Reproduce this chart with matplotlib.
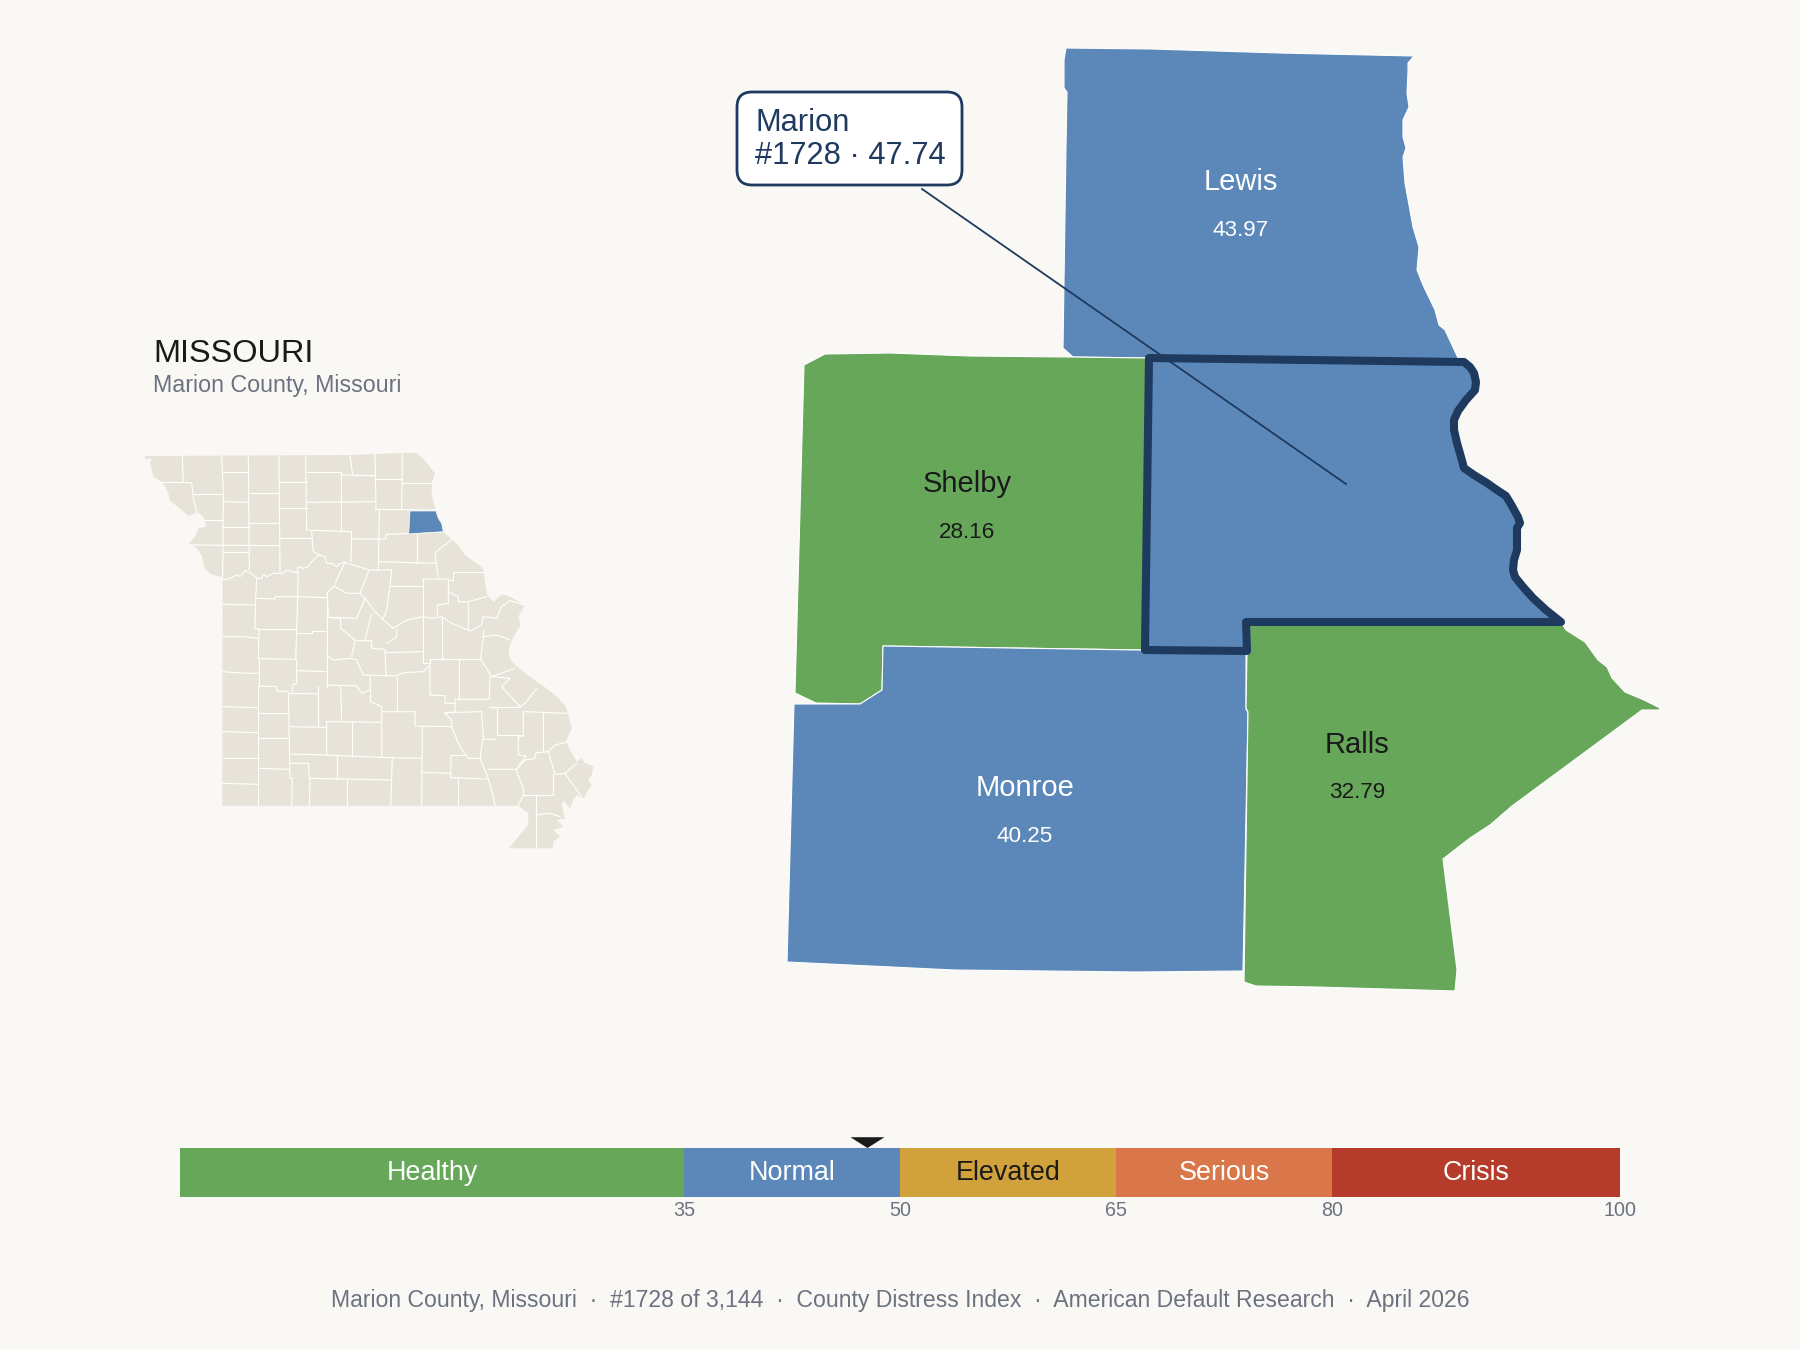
import matplotlib
matplotlib.use('Agg')
import matplotlib.pyplot as plt
from matplotlib.patches import FancyBboxPatch, Polygon, Rectangle

plt.rcParams['font.family'] = ['Liberation Sans', 'DejaVu Sans']

BG = '#FAF8F4'
NAVY = '#1F3A5F'
DARK = '#1A1A1A'
GREY = '#6B7280'
LAND = '#E8E3D8'

# severity scale
band_names = ['Healthy', 'Normal', 'Elevated', 'Serious', 'Crisis']
band_edges = [0, 35, 50, 65, 80, 100]
band_colors = ['#66A75A', '#5B88B8', '#D1A23B', '#D9774A', '#B53C2A']
band_text = ['white', 'white', DARK, 'white', 'white']
tick_values = [35, 50, 65, 80, 100]
marion_score = 47.74

# neighbouring counties
county_names = ['Lewis', 'Shelby', 'Monroe', 'Ralls']
county_scores = [43.97, 28.16, 40.25, 32.79]
county_text = ['white', DARK, 'white', DARK]
county_name_xy = [(1241, 182), (967, 484), (1025, 788), (1357, 745)]

lewis_shape = [(1066, 48), (1152, 49), (1280, 53), (1414, 56), (1408, 63), (1408, 72), (1407, 93), (1409, 107),
               (1403, 120), (1403, 137), (1406, 148), (1403, 157), (1405, 183), (1413, 227), (1419, 247),
               (1417, 270), (1423, 285), (1435, 310), (1439, 325), (1445, 330), (1459, 360), (1149, 358),
               (1073, 357), (1063, 348), (1066, 147), (1067, 92), (1064, 88), (1064, 60)]
shelby_shape = [(825, 354), (890, 353), (970, 356), (1070, 357), (1149, 358), (1145, 650), (883, 646), (882, 690),
                (860, 704), (816, 703), (795, 693), (804, 365)]
monroe_shape = [(794, 704), (860, 704), (882, 690), (883, 646), (1137, 650), (1246, 652), (1246, 709), (1248, 712),
                (1243, 971), (1137, 972), (954, 970), (787, 962)]
ralls_shape = [(1247, 622), (1561, 622), (1566, 630), (1585, 642), (1598, 660), (1607, 667), (1612, 678), (1625, 692),
               (1644, 700), (1660, 708), (1659, 710), (1642, 710), (1512, 806), (1490, 825), (1470, 838), (1443, 859),
               (1457, 970), (1455, 991), (1316, 987), (1256, 986), (1244, 982), (1248, 712), (1246, 708), (1247, 652)]
marion_shape = [(1149, 358), (1464, 362), (1470, 367), (1474, 373), (1476, 382), (1475, 390), (1466, 400), (1458, 411),
                (1454, 420), (1454, 430), (1457, 443), (1461, 457), (1464, 468), (1474, 475), (1487, 483), (1494, 488),
                (1506, 496), (1512, 506), (1518, 517), (1520, 523), (1517, 528), (1517, 540), (1517, 550), (1514, 560),
                (1513, 570), (1515, 577), (1524, 588), (1533, 598), (1546, 610), (1561, 622), (1246, 622), (1247, 651),
                (1145, 650)]
county_shapes = [lewis_shape, shelby_shape, monroe_shape, ralls_shape]

# state locator, in units of the 3x crop
state_outline = [(45, 78), (660, 75), (735, 72), (860, 68), (885, 92), (915, 130), (905, 160), (905, 195), (918, 243),
                 (925, 262), (940, 305), (965, 328), (985, 345), (1005, 375), (1060, 415), (1065, 460), (1072, 495),
                 (1090, 515), (1115, 493), (1140, 500), (1185, 525), (1165, 560), (1172, 585), (1150, 620), (1135, 660),
                 (1140, 685), (1158, 708), (1220, 755), (1240, 768), (1280, 800), (1305, 825), (1315, 850), (1325, 895),
                 (1318, 910), (1308, 935), (1320, 960), (1340, 995), (1355, 985), (1365, 1000), (1390, 1008),
                 (1385, 1035), (1375, 1050), (1385, 1065), (1375, 1080), (1360, 1108), (1340, 1095), (1330, 1110),
                 (1320, 1135), (1300, 1110), (1295, 1125), (1305, 1165), (1280, 1170), (1300, 1190), (1270, 1200),
                 (1290, 1220), (1270, 1235), (1268, 1255), (1137, 1255), (1165, 1220), (1195, 1185), (1195, 1150),
                 (1165, 1127), (277, 1127), (278, 442), (240, 432), (222, 410), (215, 375), (200, 355), (178, 340),
                 (195, 320), (205, 295), (228, 290), (225, 270), (215, 255), (200, 245), (195, 250), (175, 258),
                 (155, 240), (120, 212), (115, 190), (100, 160), (70, 140), (60, 100), (65, 85), (45, 88)]
marion_locator = [(840, 243), (918, 243), (925, 265), (935, 280), (940, 305), (862, 310), (836, 312)]
county_lines = [
    [(157, 78), (160, 157)], [(275, 80), (280, 190), (278, 445)], [(355, 80), (358, 420)], [(447, 78), (450, 430)],
    [(527, 78), (530, 300)], [(660, 75), (668, 135)], [(735, 72), (738, 238)], [(817, 72), (815, 238)],
    [(85, 157), (185, 158), (190, 205), (200, 245)], [(190, 193), (275, 193)], [(275, 125), (355, 125)],
    [(280, 215), (358, 217)], [(358, 190), (447, 190)], [(358, 280), (447, 280)], [(280, 290), (358, 290)],
    [(225, 270), (278, 270)], [(178, 345), (447, 347)], [(280, 367), (358, 367)], [(447, 157), (530, 157)],
    [(450, 235), (530, 235)], [(450, 325), (545, 325)], [(530, 127), (632, 127), (632, 302)], [(668, 135), (735, 135)],
    [(632, 135), (735, 137)], [(530, 217), (735, 215)], [(735, 238), (918, 240)], [(735, 148), (815, 148)],
    [(815, 160), (905, 160)], [(748, 240), (745, 420)], [(530, 300), (665, 305)], [(665, 305), (663, 395)],
    [(665, 327), (768, 327), (768, 313), (862, 310), (940, 305)], [(862, 310), (862, 398)], [(745, 395), (920, 400)],
    [(967, 328), (915, 368), (925, 447)], [(645, 397), (717, 420), (785, 420)], [(645, 397), (615, 460)],
    [(717, 420), (690, 490)], [(780, 467), (878, 467)], [(785, 420), (780, 467), (770, 540), (758, 570)],
    [(878, 447), (955, 447), (955, 520), (922, 525), (922, 555)], [(878, 447), (878, 700)],
    [(970, 425), (1060, 425)], [(970, 425), (970, 450), (955, 450)],
    [(955, 485), (985, 500), (985, 515), (1015, 515), (1015, 600)], [(1015, 515), (1070, 500)],
    [(278, 450), (300, 445), (320, 435), (330, 440), (345, 422), (365, 430), (380, 445), (395, 445), (400, 433),
     (410, 440), (430, 430), (460, 430), (470, 420), (500, 428), (505, 410), (520, 415), (535, 410), (545, 395),
     (555, 385), (570, 375), (585, 380), (590, 400), (605, 400), (620, 410), (630, 400), (645, 397)],
    [(545, 305), (550, 365), (570, 375)], [(505, 425), (503, 500)], [(380, 445), (377, 505), (375, 595), (387, 597)],
    [(278, 523), (377, 525)], [(377, 505), (435, 507), (435, 500), (503, 500), (590, 503)],
    [(503, 500), (500, 600), (497, 685)], [(387, 597), (500, 597)], [(278, 620), (340, 620), (387, 625)],
    [(387, 597), (385, 685)], [(388, 686), (500, 688)], [(388, 686), (388, 765)],
    [(500, 688), (500, 760), (487, 765), (487, 785)], [(278, 725), (350, 730), (388, 730)], [(278, 830), (385, 833)],
    [(385, 765), (385, 1127)], [(388, 768), (440, 770), (440, 783), (475, 785), (480, 1045)], [(385, 850), (478, 850)],
    [(278, 905), (385, 908)], [(385, 925), (478, 925)], [(278, 985), (388, 985)], [(278, 1060), (385, 1063)],
    [(388, 1015), (478, 1018)], [(500, 610), (545, 610), (545, 603), (590, 603)], [(590, 490), (615, 465)],
    [(590, 490), (590, 770)], [(500, 722), (590, 725)], [(590, 765), (680, 768), (695, 790), (720, 780)],
    [(565, 768), (565, 890)], [(478, 790), (565, 792)], [(632, 768), (635, 873)], [(590, 875), (753, 877)],
    [(720, 740), (722, 815), (755, 830), (755, 982)], [(755, 845), (855, 845), (855, 888), (965, 890)],
    [(800, 740), (800, 845)],
    [(590, 675), (610, 690), (660, 685), (680, 690), (700, 735), (800, 738), (820, 728), (880, 725), (900, 705),
     (900, 795)],
    [(590, 562), (632, 565), (632, 595), (675, 630), (665, 680)], [(592, 490), (595, 562), (680, 565), (705, 505)],
    [(615, 470), (650, 490), (690, 490), (705, 505), (735, 545), (760, 570), (790, 595), (830, 570), (878, 560),
     (905, 565), (935, 560), (965, 580), (1020, 603), (1055, 585), (1060, 560), (1100, 565), (1115, 530), (1140, 512),
     (1185, 525)],
    [(725, 550), (705, 630)], [(678, 632), (725, 632), (725, 655), (765, 658), (768, 735)],
    [(770, 640), (800, 620), (800, 600)], [(765, 668), (878, 665)], [(878, 700), (900, 700), (900, 688), (1052, 688)],
    [(935, 560), (935, 688)], [(1062, 600), (1052, 688), (1085, 740), (1155, 715)],
    [(1062, 620), (1100, 615), (1140, 630)], [(988, 688), (988, 808)],
    [(900, 795), (945, 797), (945, 820), (975, 820), (975, 808), (1078, 808), (1080, 740)],
    [(1115, 770), (1140, 745), (1085, 740)], [(1115, 770), (1170, 830), (1185, 820), (1220, 775)],
    [(1078, 832), (1170, 832)], [(1100, 835), (1100, 915), (1180, 915)],
    [(1180, 845), (1180, 918), (1165, 920), (1165, 975), (1188, 978), (1158, 1020)], [(1180, 845), (1315, 850)],
    [(1238, 845), (1238, 965)], [(975, 820), (975, 845), (945, 850), (965, 870), (965, 890)],
    [(945, 848), (1055, 845), (1060, 928), (1098, 928)], [(1058, 930), (1050, 985)], [(877, 890), (875, 1127)],
    [(965, 890), (985, 940), (1003, 970), (1015, 985), (1050, 985), (1075, 1045)], [(963, 975), (1003, 975)],
    [(963, 975), (962, 1043), (1075, 1047), (1090, 1100), (1095, 1127)], [(875, 1027), (962, 1030)],
    [(983, 1045), (983, 1127)], [(480, 890), (587, 892)], [(590, 875), (590, 975), (480, 972)], [(667, 875), (667, 982)],
    [(590, 975), (755, 982), (875, 985)], [(622, 978), (622, 1048)], [(480, 1000), (535, 1000), (538, 1045), (785, 1050)],
    [(787, 985), (782, 1127)], [(650, 1050), (650, 1127)], [(540, 1047), (538, 1127)], [(480, 1045), (487, 1045), (485, 1127)],
    [(1075, 1018), (1158, 1018), (1180, 1075), (1180, 1095), (1165, 1127)], [(1180, 1095), (1270, 1095)],
    [(1158, 1020), (1185, 990), (1215, 985), (1218, 968), (1255, 965), (1275, 1033), (1305, 1030)],
    [(1255, 965), (1275, 945), (1315, 935)], [(1270, 1033), (1270, 1095)], [(1305, 1030), (1340, 1000)],
    [(1305, 1030), (1360, 1108)], [(1217, 1095), (1217, 1255)], [(1218, 1155), (1260, 1150), (1290, 1160)],
]

footer = 'Marion County, Missouri  \u00b7  #1728 of 3,144  \u00b7  County Distress Index  \u00b7  American Default Research  \u00b7  April 2026'


def band_for(score):
    for i in range(len(band_names)):
        if score < band_edges[i + 1]:
            return i
    return len(band_names) - 1


fig = plt.figure(figsize=(18, 13.5), dpi=100, facecolor=BG)

# whole canvas in pixels, y down
ax = fig.add_axes([0, 0, 1, 1])
ax.set_xlim(0, 1800)
ax.set_ylim(1350, 0)
ax.axis('off')

for i, name in enumerate(county_names):
    score = county_scores[i]
    xy = county_name_xy[i]
    ax.add_patch(Polygon(county_shapes[i], closed=True, facecolor=band_colors[band_for(score)], edgecolor='white',
                         linewidth=0.8, zorder=2))
    ax.text(xy[0], xy[1], name, color=county_text[i], fontsize=21, ha='center', va='center', zorder=5)
    ax.text(xy[0], xy[1] + 48, '%.2f' % score, color=county_text[i], fontsize=16.2, ha='center', va='center', zorder=5)

ax.add_patch(Polygon(marion_shape, closed=True, facecolor=band_colors[band_for(marion_score)], edgecolor=NAVY,
                     linewidth=5.8, joinstyle='round', zorder=3))

# callout
ax.plot([922, 1346], [189, 484], color=NAVY, linewidth=1.3, zorder=4)
ax.add_patch(FancyBboxPatch((752, 107), 195, 63, boxstyle='round,pad=15,rounding_size=15', facecolor='white',
                            edgecolor=NAVY, linewidth=2, zorder=6))
ax.text(755, 131, 'Marion', color=NAVY, fontsize=22.2, ha='left', va='baseline', zorder=7)
ax.text(755, 164, '#1728 \u00b7 %.2f' % marion_score, color=NAVY, fontsize=22.2, ha='left', va='baseline', zorder=7)

# headings
ax.text(153, 362, 'MISSOURI', color=DARK, fontsize=23.4, ha='left', va='baseline')
ax.text(153, 392, 'Marion County, Missouri', color=GREY, fontsize=16.75, ha='left', va='baseline')
ax.text(900, 1307, footer, color=GREY, fontsize=16.6, ha='center', va='baseline')

# locator map
loc = fig.add_axes([130 / 1800, 1 - 870 / 1350, 480 / 1800, 440 / 1350])
loc.set_xlim(0, 1440)
loc.set_ylim(1320, 0)
loc.axis('off')
loc.add_patch(Polygon(state_outline, closed=True, facecolor=LAND, edgecolor='none'))
for line in county_lines:
    loc.plot([p[0] for p in line], [p[1] for p in line], color='white', linewidth=0.8, solid_capstyle='round')
loc.add_patch(Polygon(marion_locator, closed=True, facecolor=band_colors[1], edgecolor='white', linewidth=0.5, zorder=3))

# severity bar
bar = fig.add_axes([180 / 1800, 1 - 1197 / 1350, 1440 / 1800, 49 / 1350])
bar.set_xlim(0, 100)
bar.set_ylim(0, 1)
bar.axis('off')
for i, name in enumerate(band_names):
    x0 = band_edges[i]
    x1 = band_edges[i + 1]
    bar.add_patch(Rectangle((x0, 0), x1 - x0, 1, facecolor=band_colors[i], edgecolor='none'))
    bar.text((x0 + x1) / 2, 0.35, name, color=band_text[i], fontsize=19.4, ha='center', va='baseline')
for v in tick_values:
    bar.text(v, -0.39, str(v), color=GREY, fontsize=14.2, ha='center', va='baseline', clip_on=False)
bar.add_patch(Polygon([(marion_score - 1.18, 1.22), (marion_score + 1.18, 1.22), (marion_score, 1.0)], closed=True,
                      facecolor=DARK, edgecolor='none', clip_on=False))

fig.savefig('out.png', dpi=100, facecolor=BG)
